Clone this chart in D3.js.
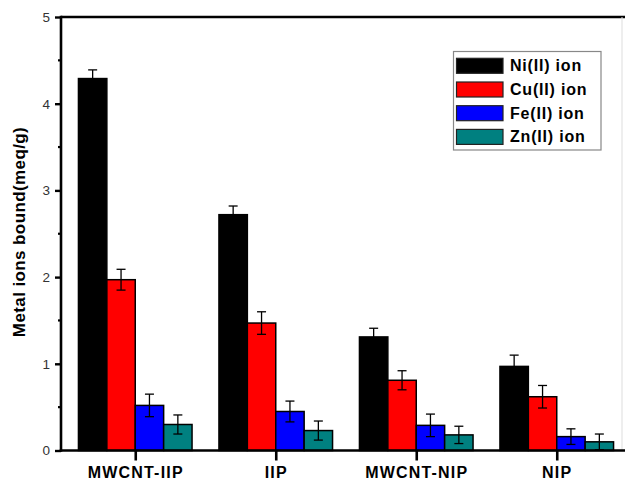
<!DOCTYPE html>
<html>
<head>
<meta charset="utf-8">
<script src="https://d3js.org/d3.v7.min.js"></script>
<style>
body { margin: 0; background: #fff; }
svg { display: block; font-family: "Liberation Sans", Arial, sans-serif; }
</style>
</head>
<body>
<svg id="chart" width="625" height="484"></svg>
<script>
// data
var categories = ["MWCNT-IIP", "IIP", "MWCNT-NIP", "NIP"];
var seriesNames = ["Ni(II) ion", "Cu(II) ion", "Fe(II) ion", "Zn(II) ion"];
var seriesColors = ["#000000", "#ff0000", "#0000ff", "#008080"];
var niValues = [4.29, 2.72, 1.31, 0.97];
var cuValues = [1.97, 1.47, 0.81, 0.62];
var feValues = [0.52, 0.45, 0.29, 0.16];
var znValues = [0.30, 0.23, 0.18, 0.10];
var niErr = [0.10, 0.10, 0.10, 0.13];
var cuErr = [0.12, 0.13, 0.11, 0.13];
var feErr = [0.13, 0.12, 0.13, 0.09];
var znErr = [0.11, 0.11, 0.10, 0.09];
var yTicks = [0, 1, 2, 3, 4, 5];

var values = [niValues, cuValues, feValues, znValues];
var errs = [niErr, cuErr, feErr, znErr];

var svg = d3.select("#chart");
var padLeft = 61, padRight = 627, plotTop = 17, plotBottom = 450.5;

var x0 = d3.scalePoint().domain(categories).range([padLeft + 4, padRight]).padding(0.5);
var x1 = d3.scaleBand().domain(seriesNames).range([-56.8, 56.8]);
var y = d3.scaleLinear().domain([0, 5]).range([plotBottom, plotTop]);

var rows = [];
seriesNames.forEach(function (s, si) {
  categories.forEach(function (c, ci) {
    rows.push({ s: s, si: si, c: c, v: values[si][ci], e: errs[si][ci] });
  });
});

// bars
svg.selectAll("rect.bar").data(rows).enter().append("rect")
  .attr("class", "bar")
  .attr("x", function (d) { return x0(d.c) + x1(d.s); })
  .attr("y", function (d) { return y(d.v); })
  .attr("width", x1.bandwidth())
  .attr("height", function (d) { return y(0) - y(d.v); })
  .attr("fill", function (d) { return seriesColors[d.si]; })
  .attr("stroke", "#000")
  .attr("stroke-width", 1.5);

// error bars
var eb = svg.selectAll("g.err").data(rows).enter().append("g")
  .attr("class", "err")
  .attr("stroke", "#000")
  .attr("stroke-width", 1.3);
eb.append("line")
  .attr("x1", function (d) { return x0(d.c) + x1(d.s) + x1.bandwidth() / 2; })
  .attr("x2", function (d) { return x0(d.c) + x1(d.s) + x1.bandwidth() / 2; })
  .attr("y1", function (d) { return y(d.v + d.e); })
  .attr("y2", function (d) { return y(d.v - d.e); });
[1, -1].forEach(function (sign) {
  eb.append("line")
    .attr("x1", function (d) { return x0(d.c) + x1(d.s) + x1.bandwidth() / 2 - 4.5; })
    .attr("x2", function (d) { return x0(d.c) + x1(d.s) + x1.bandwidth() / 2 + 4.5; })
    .attr("y1", function (d) { return y(d.v + sign * d.e); })
    .attr("y2", function (d) { return y(d.v + sign * d.e); });
});

// frame lines
svg.append("line").attr("x1", padLeft).attr("x2", 625).attr("y1", plotTop).attr("y2", plotTop)
  .attr("stroke", "#000").attr("stroke-width", 2.6);
svg.append("line").attr("x1", 622).attr("x2", 622).attr("y1", plotTop).attr("y2", plotBottom)
  .attr("stroke", "#ddd").attr("stroke-width", 1);

// y axis
var yAxis = d3.axisLeft(y).tickValues(yTicks).tickSize(6).tickPadding(5).tickFormat(d3.format("d"));
var gy = svg.append("g").attr("transform", "translate(" + padLeft + ",0)").call(yAxis);
gy.select(".domain").attr("stroke-width", 2.6).attr("d", "M0," + (plotTop - 1.3) + "V" + (plotBottom + 1.3));
gy.selectAll(".tick line").attr("stroke-width", 2.4);
gy.selectAll(".tick text").attr("font-size", 13.5).attr("fill", "#333").attr("font-family", "Liberation Sans, Arial, sans-serif");
var minor = d3.range(0.5, 5, 1);
gy.selectAll("line.minor").data(minor).enter().append("line")
  .attr("class", "minor")
  .attr("x1", -3).attr("x2", 0)
  .attr("y1", function (d) { return y(d); }).attr("y2", function (d) { return y(d); })
  .attr("stroke", "#000").attr("stroke-width", 2.2);

// x axis
var xAxis = d3.axisBottom(x0).tickSize(10).tickPadding(6);
var gx = svg.append("g").attr("transform", "translate(0," + plotBottom + ")").call(xAxis);
gx.select(".domain").attr("stroke-width", 2.6).attr("d", "M" + (padLeft - 1.3) + ",0H625");
gx.selectAll(".tick line").attr("stroke-width", 2.6);
gx.selectAll(".tick text")
  .attr("font-size", 16).attr("font-weight", "bold")
  .attr("letter-spacing", "1.2px").attr("fill", "#000")
  .attr("font-family", "Liberation Sans, Arial, sans-serif");

// y label
svg.append("text")
  .attr("transform", "translate(25,232) rotate(-90)")
  .attr("text-anchor", "middle")
  .attr("font-size", 17).attr("font-weight", "bold")
  .attr("letter-spacing", "0.4px")
  .text("Metal ions bound(meq/g)");

// legend
var lg = svg.append("g");
lg.append("rect").attr("x", 453.5).attr("y", 51.5).attr("width", 147.5).attr("height", 98.5)
  .attr("fill", "#fff").attr("stroke", "#888").attr("stroke-width", 1.2);
var items = lg.selectAll("g.item").data(seriesNames).enter().append("g")
  .attr("class", "item")
  .attr("transform", function (d, i) { return "translate(456.5," + (58.3 + i * 23.7) + ")"; });
items.append("rect").attr("width", 46.5).attr("height", 15)
  .attr("fill", function (d, i) { return seriesColors[i]; })
  .attr("stroke", "#222").attr("stroke-width", 1.2);
items.append("text").attr("x", 53.5).attr("y", 13)
  .attr("font-size", 16).attr("font-weight", "bold").attr("letter-spacing", "0.8px")
  .text(function (d) { return d; });
</script>
</body>
</html>
